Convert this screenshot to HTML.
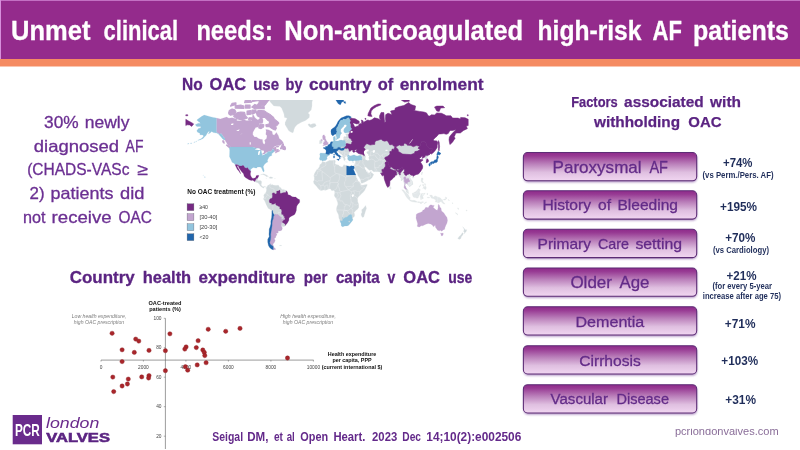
<!DOCTYPE html>
<html><head><meta charset="utf-8"><title>Unmet clinical needs</title>
<style>html,body{margin:0;padding:0;background:#fff}body{width:800px;height:450px;overflow:hidden}svg{display:block}text{font-family:"Liberation Sans",sans-serif}</style></head>
<body><svg width="800" height="450" viewBox="0 0 800 450">
<rect x="0" y="0" width="800" height="59" fill="#942b8c"/>
<rect x="0" y="0" width="1" height="59" fill="#d78fdc"/><rect x="0" y="0" width="800" height="0.7" fill="#d78fdc"/>
<rect x="0" y="59" width="800" height="7.5" fill="#f58b62"/>
<text y="39.9" font-size="27.6" fill="#fff" font-weight="bold" stroke="#fff" stroke-width="0.3"><tspan x="11.1" textLength="79.3" lengthAdjust="spacingAndGlyphs">Unmet</tspan> <tspan x="103.6" textLength="74.6" lengthAdjust="spacingAndGlyphs">clinical</tspan> <tspan x="196.4" textLength="76.4" lengthAdjust="spacingAndGlyphs">needs:</tspan> <tspan x="284.3" textLength="238.9" lengthAdjust="spacingAndGlyphs">Non-anticoagulated</tspan> <tspan x="537.5" textLength="104.0" lengthAdjust="spacingAndGlyphs">high-risk</tspan> <tspan x="652.6" textLength="29.4" lengthAdjust="spacingAndGlyphs">AF</tspan> <tspan x="693.1" textLength="95.9" lengthAdjust="spacingAndGlyphs">patients</tspan></text>
<text y="127.7" font-size="16.5" fill="#6b2f92" stroke="#6b2f92" stroke-width="0.3"><tspan x="44.1" textLength="34.6" lengthAdjust="spacingAndGlyphs">30%</tspan> <tspan x="84.75" textLength="44.7" lengthAdjust="spacingAndGlyphs">newly</tspan></text>
<text y="151.5" font-size="16.5" fill="#6b2f92" stroke="#6b2f92" stroke-width="0.3"><tspan x="33.75" textLength="85.3" lengthAdjust="spacingAndGlyphs">diagnosed</tspan> <tspan x="125.6" textLength="17.8" lengthAdjust="spacingAndGlyphs">AF</tspan></text>
<text y="175.2" font-size="16.5" fill="#6b2f92" stroke="#6b2f92" stroke-width="0.3"><tspan x="27.2" textLength="102.2" lengthAdjust="spacingAndGlyphs">(CHADS-VASc</tspan> <tspan x="136.9" textLength="10.7" lengthAdjust="spacingAndGlyphs">≥</tspan></text>
<text y="199.1" font-size="16.5" fill="#6b2f92" stroke="#6b2f92" stroke-width="0.3"><tspan x="29.6" textLength="15.0" lengthAdjust="spacingAndGlyphs">2)</tspan> <tspan x="50.6" textLength="62.8" lengthAdjust="spacingAndGlyphs">patients</tspan> <tspan x="120" textLength="24.4" lengthAdjust="spacingAndGlyphs">did</tspan></text>
<text y="223.4" font-size="16.5" fill="#6b2f92" stroke="#6b2f92" stroke-width="0.3"><tspan x="22.9" textLength="22.5" lengthAdjust="spacingAndGlyphs">not</tspan> <tspan x="51.6" textLength="60.0" lengthAdjust="spacingAndGlyphs">receive</tspan> <tspan x="118.5" textLength="33.4" lengthAdjust="spacingAndGlyphs">OAC</tspan></text>
<text y="90" font-size="16.8" fill="#5b2482" font-weight="bold" stroke="#5b2482" stroke-width="0.3"><tspan x="182" textLength="20.6" lengthAdjust="spacingAndGlyphs">No</tspan> <tspan x="209.6" textLength="36.6" lengthAdjust="spacingAndGlyphs">OAC</tspan> <tspan x="253.2" textLength="25.9" lengthAdjust="spacingAndGlyphs">use</tspan> <tspan x="285.5" textLength="17.0" lengthAdjust="spacingAndGlyphs">by</tspan> <tspan x="308.9" textLength="62.7" lengthAdjust="spacingAndGlyphs">country</tspan> <tspan x="377.8" textLength="15.5" lengthAdjust="spacingAndGlyphs">of</tspan> <tspan x="399.7" textLength="83.9" lengthAdjust="spacingAndGlyphs">enrolment</tspan></text>
<text y="283.4" font-size="16.8" fill="#5b2482" font-weight="bold" stroke="#5b2482" stroke-width="0.3"><tspan x="69.7" textLength="65.1" lengthAdjust="spacingAndGlyphs">Country</tspan> <tspan x="142.7" textLength="48.5" lengthAdjust="spacingAndGlyphs">health</tspan> <tspan x="198.6" textLength="96.6" lengthAdjust="spacingAndGlyphs">expenditure</tspan> <tspan x="303.8" textLength="23.7" lengthAdjust="spacingAndGlyphs">per</tspan> <tspan x="335.9" textLength="43.8" lengthAdjust="spacingAndGlyphs">capita</tspan> <tspan x="387.6" textLength="7.8" lengthAdjust="spacingAndGlyphs">v</tspan> <tspan x="403.3" textLength="36.7" lengthAdjust="spacingAndGlyphs">OAC</tspan> <tspan x="448.2" textLength="24.1" lengthAdjust="spacingAndGlyphs">use</tspan></text>
<text y="106.6" font-size="15" fill="#5b2482" font-weight="bold" stroke="#5b2482" stroke-width="0.25"><tspan x="571.2" textLength="46.5" lengthAdjust="spacingAndGlyphs">Factors</tspan> <tspan x="624.1" textLength="79.6" lengthAdjust="spacingAndGlyphs">associated</tspan> <tspan x="710.1" textLength="30.9" lengthAdjust="spacingAndGlyphs">with</tspan></text>
<text y="127.3" font-size="15" fill="#5b2482" font-weight="bold" stroke="#5b2482" stroke-width="0.25"><tspan x="594" textLength="86" lengthAdjust="spacingAndGlyphs">withholding</tspan> <tspan x="688.3" textLength="33.2" lengthAdjust="spacingAndGlyphs">OAC</tspan></text>
<clipPath id="mc"><rect x="184" y="100" width="300" height="152"/></clipPath>
<g clip-path="url(#mc)"><path d="M320.0,160.2 319.5,158.5 320.0,156.9 320.0,155.0 319.7,153.9 320.7,153.0 322.5,153.2 324.3,153.3 325.6,153.4 326.1,152.1 326.1,150.5 325.0,149.0 323.3,148.2 323.5,147.5 325.7,147.4 325.6,146.2 327.2,146.4 328.3,144.8 329.0,144.5 329.9,144.0 330.5,142.8 330.9,141.8 332.5,141.7 333.7,141.1 333.7,139.8 333.4,139.7 333.4,137.0 335.2,136.2 335.2,138.0 334.8,139.9 335.6,140.9 338.1,141.1 339.9,140.3 341.5,140.0 342.5,140.4 343.5,139.4 343.5,137.3 344.3,136.2 346.1,136.8 346.1,135.3 345.4,134.1 347.4,133.5 349.0,133.6 350.7,133.1 349.4,132.2 348.8,132.2 346.6,132.8 345.0,133.1 343.9,131.8 343.7,130.1 344.6,128.3 346.2,126.8 346.8,125.6 345.9,124.4 344.3,124.7 343.5,126.4 341.9,127.9 340.7,129.4 340.6,131.5 341.7,133.2 340.3,134.7 339.9,136.4 339.6,138.0 338.4,138.1 338.2,139.0 337.2,139.1 337.0,138.4 336.4,136.6 335.9,135.3 335.8,134.2 335.2,133.9 334.5,134.6 333.3,135.6 332.5,135.7 331.3,134.3 330.9,131.5 331.1,129.8 332.5,128.6 334.1,127.4 335.6,125.9 336.8,124.0 338.0,121.6 339.2,120.0 341.1,117.9 343.5,117.1 346.6,115.7 349.0,115.7 351.3,116.9 350.5,117.9 352.9,118.5 355.2,118.8 359.2,121.3 359.2,123.2 356.8,124.0 353.7,122.9 352.9,123.6 354.1,125.6 354.5,126.7 356.4,127.1 356.8,125.9 358.4,126.2 358.8,124.4 360.3,123.4 361.5,123.9 361.7,121.1 361.1,120.0 363.1,120.8 363.5,122.8 364.7,121.5 367.8,120.0 369.4,120.5 371.7,119.8 374.5,117.8 377.6,118.6 378.8,119.1 380.7,120.3 379.6,118.3 379.6,115.7 381.1,112.4 383.9,112.6 384.3,119.1 384.8,122.4 385.8,121.6 385.4,119.1 385.7,114.8 386.6,113.9 388.2,113.3 390.1,113.9 392.1,114.8 390.5,111.1 394.9,110.1 395.2,108.1 399.2,106.5 403.9,105.5 408.6,102.5 410.9,104.4 415.6,106.1 414.9,110.1 413.3,110.1 415.6,110.7 419.6,111.4 423.9,112.0 426.6,112.9 428.2,115.7 429.8,116.0 431.3,114.8 434.5,114.9 436.8,112.9 441.5,113.3 444.7,114.8 446.2,115.8 450.9,115.8 452.5,117.9 454.1,118.1 458.0,118.1 460.3,119.1 460.7,117.4 465.1,117.8 468.2,119.3 468.2,125.6 466.2,126.1 467.4,128.6 465.8,129.4 463.5,130.4 460.3,133.0 457.2,133.0 455.6,133.2 454.9,135.7 454.1,136.4 455.1,138.4 454.1,139.7 452.5,142.2 451.2,143.4 449.9,144.6 449.4,142.2 449.0,139.7 449.4,137.0 450.9,135.0 453.3,132.2 454.9,130.8 456.0,129.4 452.9,130.4 450.2,130.5 449.4,131.5 448.2,133.6 446.2,134.3 443.9,133.6 440.7,133.9 438.8,134.1 436.8,136.4 435.2,137.7 433.1,140.0 434.9,140.9 436.4,140.7 437.8,142.2 437.6,143.4 437.2,145.2 437.1,147.6 435.6,149.9 433.7,152.2 431.5,154.1 430.5,153.6 429.5,154.6 428.7,155.5 427.0,157.4 427.7,158.7 428.5,160.2 428.5,161.8 427.4,162.5 426.2,162.9 426.2,161.3 426.4,159.5 425.1,159.2 425.2,157.6 424.5,157.2 422.7,158.1 422.1,158.4 422.7,156.6 421.9,156.2 420.3,157.9 419.3,158.4 420.2,159.5 421.7,159.4 423.1,160.0 421.5,161.1 420.6,162.3 421.5,163.8 422.5,165.5 422.7,167.0 422.3,168.7 421.1,170.6 420.0,172.3 418.4,173.9 416.4,174.5 414.1,175.4 413.3,176.4 412.9,175.3 411.7,175.2 410.7,176.1 409.9,177.6 410.5,179.0 412.1,180.8 412.7,183.1 412.7,184.4 410.9,185.4 409.5,186.9 409.2,185.6 407.8,184.9 407.4,183.8 406.1,183.3 405.8,182.6 405.4,183.5 404.9,185.3 405.7,187.1 406.2,188.5 407.1,189.1 408.1,190.6 408.2,192.4 408.7,193.4 408.1,193.3 406.5,192.0 405.8,189.7 405.6,188.9 405.2,188.9 404.1,187.5 404.3,185.8 404.4,184.0 403.7,181.7 403.6,179.9 402.3,179.6 401.8,180.6 401.0,180.4 401.1,178.6 400.3,176.9 399.4,176.0 399.0,174.6 398.0,174.9 396.8,175.1 395.2,175.3 394.9,176.7 393.7,177.4 391.6,179.8 389.9,180.8 389.9,182.8 389.6,185.5 389.0,186.4 388.3,186.8 387.8,187.4 386.8,185.9 385.8,183.5 385.0,181.3 384.3,179.0 384.1,177.5 384.0,175.8 383.9,175.1 382.7,176.0 381.1,174.6 381.9,174.0 380.5,173.4 379.8,172.3 379.3,172.1 377.2,171.8 375.3,171.9 373.3,171.7 371.9,170.3 371.2,170.1 369.7,170.5 368.2,169.6 366.8,168.0 365.8,167.1 365.0,167.3 364.7,167.7 365.2,169.2 366.2,170.4 366.8,172.1 367.2,171.0 367.5,172.3 368.2,172.8 369.5,172.8 370.9,171.1 371.2,170.8 371.4,172.5 372.9,173.4 373.9,174.4 372.9,176.3 372.3,177.6 371.3,178.6 370.1,179.5 367.9,180.4 365.4,181.9 362.3,183.3 361.1,183.3 360.7,181.7 360.5,180.1 359.2,177.6 357.7,175.6 357.2,173.5 356.0,171.6 354.6,169.2 354.4,167.7 353.8,166.0 354.5,164.3 355.2,162.3 355.4,160.6 354.1,160.5 352.5,161.2 351.0,160.4 349.7,161.1 348.5,160.2 347.6,158.9 348.0,157.6 347.6,157.1 348.6,156.6 349.7,156.0 351.7,155.7 353.3,154.9 354.6,154.9 355.6,155.7 357.2,156.0 359.6,155.5 359.6,154.1 358.4,153.4 358.0,153.1 356.4,152.0 356.0,151.3 356.8,149.6 357.6,149.1 357.0,149.2 356.4,149.6 354.5,150.3 354.7,151.3 355.6,151.4 354.8,152.0 353.4,152.3 352.6,151.2 353.4,150.4 352.1,150.2 351.2,149.9 350.3,151.3 349.5,152.7 349.0,153.9 349.0,155.0 349.1,155.5 349.7,155.9 348.6,156.1 347.6,156.8 347.4,156.2 345.8,156.2 345.7,157.1 344.8,156.7 345.0,157.9 345.8,159.2 345.0,159.9 345.2,160.7 344.6,160.8 343.9,160.4 343.6,159.4 343.5,158.4 342.7,157.5 342.2,156.7 342.3,155.2 341.5,154.4 339.6,153.3 338.8,152.2 338.2,151.4 337.7,151.0 336.6,151.3 336.7,152.5 337.7,153.3 338.1,154.6 339.6,155.2 341.5,156.9 340.3,156.6 340.0,157.4 340.5,158.1 339.6,159.2 339.3,157.1 338.4,156.4 336.8,155.4 335.2,154.0 335.0,152.9 333.9,152.3 332.9,153.0 332.1,153.7 330.8,153.4 329.5,153.6 329.4,154.5 329.5,155.0 327.6,156.0 326.8,157.6 327.2,158.4 326.5,159.6 325.3,160.5 323.5,160.5 322.6,161.3 322.0,160.4 321.2,160.0 320.0,160.2ZM352.6,167.3 352.3,166.1 351.3,165.8 349.7,166.4 346.6,165.7 345.2,165.1 343.9,164.5 342.7,166.3 342.3,166.9 340.7,166.4 339.2,165.8 338.9,164.9 336.8,164.4 335.6,164.0 335.0,163.3 335.6,161.8 335.2,160.2 334.7,159.9 332.5,160.2 329.4,160.3 327.0,161.5 325.4,162.2 322.8,161.5 322.3,161.5 321.5,163.3 319.7,164.8 319.3,166.8 318.0,168.7 316.8,169.5 315.2,172.1 314.4,173.5 313.7,175.8 314.2,177.6 314.1,179.9 313.3,181.5 313.8,183.5 315.2,185.0 316.6,186.6 318.0,188.4 319.9,190.2 321.1,190.7 323.9,190.0 325.4,190.4 327.8,189.5 329.0,189.0 330.5,189.0 331.3,190.6 332.5,190.8 333.7,190.5 334.6,191.5 334.5,193.7 334.1,195.3 334.7,196.8 336.3,198.8 336.6,199.9 337.4,202.1 337.8,204.3 336.8,206.6 336.4,208.6 336.3,209.9 337.0,212.0 338.4,214.8 338.8,218.1 339.9,220.6 341.1,223.4 341.4,225.9 342.7,226.7 344.6,225.9 347.0,225.9 348.6,225.2 350.5,222.9 352.5,220.5 352.8,219.0 352.8,218.1 354.7,216.2 354.7,214.3 354.2,212.5 355.9,210.5 357.6,209.3 358.8,207.5 358.8,203.9 357.8,201.7 357.8,199.9 357.6,198.7 358.5,196.8 359.6,196.1 361.1,194.2 363.1,192.4 364.7,190.6 366.2,187.5 367.2,185.3 367.2,184.2 365.4,184.6 363.1,185.1 361.5,185.3 360.9,184.3 360.7,183.3 359.2,181.5 358.0,180.8 357.2,178.6 356.3,177.2 356.2,175.8 355.9,174.9 355.0,173.2 354.3,171.3 353.5,169.7 352.6,167.3ZM352.6,167.3 353.3,168.7 353.8,169.4 354.4,167.7 353.8,166.0 352.3,166.1ZM266.4,186.9 267.4,186.2 267.8,185.1 268.6,184.9 270.5,183.8 271.1,183.6 270.9,184.9 272.1,184.3 273.3,185.0 275.2,185.2 276.8,185.3 278.4,185.1 279.2,186.2 279.5,187.1 280.7,187.5 281.9,189.3 283.9,189.4 286.2,190.2 286.6,190.8 287.8,193.0 287.8,194.6 289.0,195.0 290.1,195.2 292.1,196.8 294.1,197.1 295.6,197.1 296.8,197.9 298.0,198.9 299.4,199.5 299.7,201.0 299.5,202.6 298.0,204.3 296.8,206.1 296.4,208.4 296.3,210.5 295.6,212.5 294.8,214.3 293.3,215.3 291.7,216.0 290.1,216.9 289.0,218.1 288.8,220.5 287.4,222.9 286.1,224.4 285.1,225.7 284.3,226.7 282.7,226.8 281.2,225.9 282.3,227.9 281.9,230.0 279.9,230.9 278.2,230.8 278.1,233.0 276.0,233.2 277.0,234.8 275.9,235.9 275.6,237.6 274.1,238.7 275.2,240.4 274.1,242.8 272.9,244.0 273.3,246.1 273.5,247.0 275.9,249.3 273.2,249.8 271.3,248.9 269.7,247.6 268.6,245.8 267.8,242.2 267.8,239.3 269.3,236.5 269.0,234.3 269.2,231.6 269.3,229.0 270.1,226.9 270.9,223.9 270.9,221.0 271.7,217.6 271.9,214.3 271.9,211.0 270.5,209.7 268.2,208.4 267.2,206.8 266.2,204.8 265.0,201.8 264.2,200.3 263.2,199.0 264.0,197.6 264.2,196.8 263.5,195.9 264.1,194.6 264.6,193.7 265.3,193.3 266.2,191.3 266.4,189.3 266.0,188.2 266.4,186.9ZM254.7,181.7 256.4,182.4 258.2,183.1 258.4,183.5 259.8,184.9 259.9,185.8 261.5,187.1 262.1,187.5 263.5,188.2 264.2,188.0 264.2,187.1 265.0,186.6 265.8,187.3 266.0,188.2 266.4,186.9 264.6,186.1 263.5,186.8 262.3,186.2 261.5,185.3 261.3,184.4 261.7,183.1 261.7,181.3 260.7,180.6 259.5,180.5 258.0,180.6 257.3,180.5 257.8,179.5 257.7,178.1 257.2,178.6 256.0,178.7 255.6,180.4 254.8,180.8 254.7,181.7ZM269.7,101.4 273.7,106.1 279.9,106.5 281.5,108.1 283.9,113.9 284.3,117.4 287.0,118.3 285.0,122.4 285.0,124.8 287.0,127.9 288.6,130.8 290.9,132.2 292.9,133.1 293.7,131.5 294.1,129.4 295.2,127.1 297.2,124.8 301.1,122.4 305.8,120.5 309.4,117.4 309.7,114.8 308.2,112.9 311.3,110.1 312.1,106.1 312.1,101.9 313.7,97.3 317.6,93.7 311.3,92.4 301.9,88.5 291.7,91.2 279.9,92.4 276.0,96.1 270.5,98.5ZM307.8,124.8 309.7,127.1 312.1,128.0 315.2,126.8 316.4,125.6 315.2,123.6 312.9,123.6 310.5,124.4 309.0,123.4ZM260.3,175.1 261.9,173.9 263.9,173.8 266.6,175.1 268.8,176.5 266.2,176.8 265.8,176.1 263.9,175.1 262.3,174.5 261.1,175.1ZM268.6,178.1 270.1,176.8 272.1,176.9 273.3,178.0 271.7,178.4 270.5,178.5ZM265.6,178.3 267.2,178.5 266.6,178.7ZM274.3,178.2 275.5,178.2 275.5,178.6 274.3,178.6ZM365.7,205.2 366.6,208.4 365.8,210.6 364.5,214.8 363.9,217.1 362.3,217.6 361.3,215.7 361.0,213.9 361.9,212.3 361.5,209.7 363.1,208.6 364.7,206.6ZM319.2,143.7 319.5,141.8 319.2,140.7 320.5,140.3 320.7,139.4 321.5,139.3 320.7,140.3 321.3,140.7 322.3,140.8 322.3,142.2 322.0,143.2 320.7,143.8ZM279.2,245.5 281.5,245.0 281.5,246.0 279.5,246.1ZM352.3,162.3 352.9,161.9 354.1,161.6 353.7,162.4 352.9,162.7ZM345.4,161.8 347.6,162.0 347.6,162.3 345.4,162.1ZM328.9,157.6 329.7,157.2 329.5,157.8ZM462.5,226.4 463.7,227.6 464.7,228.7 465.1,229.6 467.0,229.7 466.5,231.3 465.8,232.1 464.5,233.8 464.0,233.4 464.3,232.1 463.3,231.4 464.0,230.0 463.9,229.0 462.7,226.9ZM462.5,232.6 463.6,233.5 462.7,235.3 461.4,236.8 461.0,238.6 459.6,239.4 457.6,238.7 458.8,236.7 460.7,235.1 461.9,233.2Z" fill="#d2dadd" stroke="#f4f6f7" stroke-width="0.25" stroke-linejoin="round"/>
<path d="M411.7,175.2 410.7,176.1 409.9,177.6 410.5,179.0 412.1,180.8 412.7,183.1 412.7,184.4 410.9,185.4 409.5,186.9 409.2,185.6 407.8,184.9 407.4,183.8 406.1,183.3 405.8,182.6 405.4,183.5 404.9,185.3 405.7,187.1 406.2,188.5 407.1,189.1 408.1,190.6 408.2,192.4 408.7,193.4 408.1,193.3 406.5,192.0 405.8,189.7 405.6,188.9 405.2,188.9 404.1,187.5 404.3,185.8 404.4,184.0 403.7,181.7 403.6,179.9 402.3,179.6 401.8,180.6 401.0,180.4 401.1,178.6 400.3,176.9 399.4,176.0 399.0,174.6 399.6,175.0 400.3,174.9 400.2,173.0 401.2,172.3 401.7,171.1 403.1,170.0 403.3,169.0 404.4,169.6 404.4,171.3 403.6,173.0 404.6,173.7 404.8,174.8 405.5,175.3 406.4,175.6 407.2,174.4 407.8,174.4 409.6,173.7 410.7,174.9ZM401.8,189.7 403.5,190.0 405.8,192.4 408.2,194.6 409.0,196.4 410.1,197.5 410.0,199.7 409.0,199.7 407.2,198.1 405.8,195.9 404.4,193.3 403.1,191.5ZM409.5,200.6 410.5,199.9 412.1,200.5 413.9,200.3 415.4,200.8 416.8,201.5 416.7,202.3 414.1,201.9 411.7,201.5 410.5,201.1ZM412.5,193.0 413.3,193.1 414.5,192.2 415.6,191.7 417.2,190.2 418.6,188.4 420.5,190.0 419.4,191.1 419.6,192.8 420.3,193.7 419.2,195.3 418.4,197.1 418.0,198.1 416.8,198.1 415.6,197.5 414.5,197.5 413.4,197.1 412.5,195.0ZM421.0,194.0 421.8,193.5 423.5,193.7 425.1,193.2 424.7,194.2 421.9,194.2 421.5,195.3 422.7,195.4 423.7,195.3 422.5,196.2 423.3,198.1 422.9,199.0 422.3,198.7 421.8,197.1 421.4,199.5 420.7,199.5 420.6,197.6 420.2,197.1ZM429.8,195.3 432.1,195.3 432.9,197.5 435.1,195.9 437.6,196.9 440.3,197.9 441.5,199.5 442.9,200.1 442.3,200.6 443.3,201.9 445.1,204.0 442.9,203.5 441.5,201.8 440.0,201.4 439.2,202.7 437.6,202.6 436.0,201.8 435.2,201.9 435.8,200.6 435.2,199.4 433.3,198.5 431.3,198.1 431.1,197.1 430.0,195.9ZM412.3,177.5 412.9,178.4 413.7,177.8 414.1,177.0 413.3,176.6ZM421.9,171.9 422.7,172.1 421.8,174.9 421.2,173.9ZM389.6,186.0 390.7,187.1 391.2,188.4 390.2,189.3 389.6,188.4ZM421.5,178.1 422.9,178.1 422.9,179.9 422.3,180.8 423.1,182.2 424.3,183.1 424.1,183.4 423.1,182.4 421.9,182.4 421.4,181.5 421.1,180.2ZM422.7,188.4 423.9,187.0 425.4,185.9 426.2,187.5 426.0,189.0 425.4,189.6 424.3,188.9 423.9,188.0ZM425.1,183.5 425.6,184.9 425.1,185.6 424.5,184.6ZM422.7,184.2 423.6,184.7 423.6,186.5 423.1,186.2 422.7,185.3ZM419.0,187.1 420.7,184.6 420.6,185.5 419.4,187.2ZM417.6,201.8 418.8,201.8 420.3,202.1 423.3,201.8 423.3,202.4 420.3,202.6 418.8,202.6 417.6,202.4ZM423.9,203.7 425.1,202.6 426.8,202.0 426.2,202.6 424.7,203.6ZM427.0,193.0 427.8,193.7 427.4,195.0 427.0,194.2ZM427.4,197.2 429.6,197.4 429.4,197.9 427.4,197.7ZM420.3,203.0 421.5,203.0 421.5,203.6 420.3,203.4ZM443.5,199.5 444.7,199.0 446.2,198.3 446.4,199.0 445.1,200.1 443.5,199.9ZM445.4,197.0 446.9,197.9 446.6,198.4 445.4,197.4ZM448.3,199.5 449.4,200.5 449.0,200.8 448.3,199.9ZM452.1,202.8 453.1,203.3 452.7,203.4 452.1,203.2ZM455.6,212.7 458.0,214.3 457.6,214.7 455.6,213.2ZM466.1,210.2 467.1,210.2 467.1,210.8 466.1,210.8ZM457.6,207.9 458.2,207.9 458.6,209.3 458.2,209.3Z" fill="#e3e8ea" stroke="#d9dfe2" stroke-width="0.3" stroke-linejoin="round"/>
<path d="M346.6,174.9 346.6,176.7 345.8,177.2 345.8,180.6 344.6,181.7 344.6,184.9 345.8,186.8 346.8,188.0 348.5,190.0M346.6,176.7 355.9,174.9M346.6,174.9 351.6,174.9M336.0,164.1 334.5,167.1 334.8,172.5 336.4,173.5 338.8,173.9 345.8,177.2M338.8,173.9 339.6,176.3 339.2,179.6 337.7,182.5 338.4,183.3 338.0,185.8 339.2,188.0 339.7,191.1 341.5,191.5M320.2,169.5 320.2,169.9 323.2,172.1 327.9,175.8 329.5,177.2 330.3,177.5 330.3,179.9 329.8,180.8 327.2,181.3 324.6,182.4 322.7,185.3 320.7,185.6 318.1,183.7M336.4,173.5 330.3,177.5M316.8,169.5 320.2,169.5M313.7,175.8 316.8,175.5 316.8,173.9 317.6,173.5 317.6,171.1 320.2,171.1 320.2,169.9M323.2,172.1 321.9,172.1 322.7,180.8 318.0,180.8 317.4,181.5 314.1,179.9M325.4,162.2 326.1,165.1 324.2,166.5 320.2,168.5 320.2,169.5M333.7,160.3 333.4,164.3 334.5,167.1M329.8,180.8 329.8,184.2 329.1,189.0M337.7,182.5 330.3,182.6 329.8,184.2M333.7,190.5 336.3,188.8 337.4,186.1 338.4,183.3M324.8,190.2 324.9,186.2 327.0,184.9 327.7,184.9 328.3,189.1M320.3,190.6 321.1,188.0 320.7,185.6M322.7,185.3 324.9,186.2M334.7,192.6 337.4,192.7 339.7,192.7 341.5,191.5 344.6,190.9 348.5,190.0 351.2,191.5 351.6,192.7 350.2,195.8 350.9,198.5 350.0,198.6M348.5,190.0 353.6,186.2 352.9,183.8 355.5,181.5 357.2,178.6M345.8,186.8 353.6,186.2M351.2,191.5 353.7,190.9 355.2,190.6 357.6,191.5 359.2,191.2 359.9,191.2 359.2,194.6 359.6,196.1M355.5,181.5 358.4,181.7 360.3,183.5 360.9,184.3M360.3,183.5 360.7,185.3 361.5,186.6 364.7,187.5 359.9,191.2M353.7,190.9 354.5,193.3 353.7,195.5 356.5,197.2 357.7,198.7M353.7,195.5 350.9,195.5M350.9,198.5 351.1,201.8 352.8,202.9 353.7,203.0M354.2,204.8 356.4,205.0 358.8,203.9M336.6,199.9 339.9,199.8 340.3,201.2 342.3,200.8 344.3,204.3 345.8,204.3 345.8,206.1 344.3,206.1 344.3,210.2 336.3,209.9M345.8,204.3 348.2,205.2 349.7,206.5 349.4,205.7 350.5,205.2 351.1,201.8M344.3,210.2 346.8,210.5 348.2,210.6 350.8,208.5 352.9,207.0 352.8,202.9M346.8,210.5 350.1,214.5M350.8,208.5 352.7,209.5 352.7,212.5 351.6,214.7M342.7,217.0 342.7,214.3 343.5,214.3 343.5,210.9 346.8,210.5M337.4,192.7 338.4,195.9 336.8,197.7 336.3,198.8M339.7,192.7 341.0,195.5 339.6,198.8 337.2,199.0" fill="none" stroke="#f4f6f7" stroke-width="0.3" stroke-linejoin="round"/>
<path d="M365.4,149.9 363.7,147.6 365.0,145.6 366.6,143.8M368.6,154.9 370.5,155.7 370.9,151.6 372.9,151.1 374.8,152.4 375.6,153.3 377.6,153.2 378.8,154.9 380.3,156.0 382.3,154.9 382.7,154.1 384.7,153.9 385.4,153.6 387.4,154.0 390.0,154.1M370.5,155.7 371.7,155.7 374.1,154.7 375.6,155.8 376.0,157.1 379.2,159.8 377.6,161.0 375.0,161.7 374.8,160.6 373.3,159.7 371.7,159.0 370.0,159.7 369.3,159.9M379.2,159.8 380.3,160.2 381.5,159.6 383.1,160.5 385.8,159.9M380.3,156.0 379.9,157.9 380.3,160.2M382.3,154.9 382.7,156.9 384.9,157.5M375.0,161.7 374.5,163.8 374.7,167.4 375.3,171.9M374.7,167.4 376.0,167.8 379.0,167.3 379.2,165.5 381.5,165.3 381.9,163.8 382.8,163.2 383.1,160.5M375.5,172.0 376.6,170.5 376.3,168.9 374.7,167.4M362.1,157.4 361.7,158.3 362.0,160.0 363.1,161.5 362.7,163.3 364.3,164.8 364.7,166.8 365.0,167.3M362.1,157.4 363.5,158.1 364.7,157.6 365.4,158.8M363.5,155.2 362.3,155.8 361.1,155.9 362.3,155.8 363.5,158.1M360.3,160.0 359.2,162.8 357.6,165.0 357.7,165.3 356.0,165.8 354.5,167.9M357.6,165.0 358.8,165.4 359.9,166.1 362.1,168.0 363.5,168.1 364.4,167.3 364.7,167.3M355.4,160.6 356.8,160.4 358.4,160.4 360.3,160.0M355.2,162.3 355.7,163.1 355.1,164.0 354.9,164.6 357.6,165.0M354.9,164.6 354.8,166.3 354.5,167.7M367.5,172.3 368.3,174.0 370.3,174.2 370.7,176.7 367.8,177.6 365.4,178.0 363.9,179.5 360.9,179.2 360.6,180.0M370.3,174.2 370.9,173.0 371.2,172.1M367.8,177.6 368.6,179.8M349.0,133.6 348.6,135.0 348.7,136.5 349.1,138.1 347.9,138.7 347.2,139.8 345.7,140.9 345.4,141.1 345.7,142.6M346.1,135.7 348.7,136.5M343.5,138.2 347.9,138.7M349.1,138.1 351.3,139.0 351.2,139.9 352.5,141.6 351.7,142.2 351.7,143.3M345.0,148.2 343.5,150.3 341.7,150.6 339.9,150.0 339.7,149.6M343.5,150.3 344.6,152.2 344.8,152.9 349.4,153.1M349.1,151.1 347.9,148.0M344.8,152.9 344.6,154.6 345.0,155.7 347.7,155.3 349.0,155.0M347.7,155.3 347.4,156.2M342.2,155.0 343.1,156.0 343.3,156.1 345.0,155.7M342.7,157.4 343.3,156.1M337.7,151.0 339.9,150.0M341.9,151.7 339.6,151.4 339.0,151.1 337.7,151.0M341.7,150.6 341.9,151.7 342.3,153.3 341.5,154.4M342.3,153.3 343.1,153.9 343.9,154.6 344.6,154.6M341.9,151.7 344.6,152.2M405.5,176.4 403.9,177.0 403.6,178.4 404.3,179.9 404.0,181.1 404.7,182.6 404.8,184.4 404.3,185.8M405.5,175.3 405.5,176.4M406.4,175.6 407.0,176.7 408.6,176.4 409.4,177.9 411.3,180.2 411.4,181.7 409.8,181.8M411.4,181.7 411.3,183.7 410.1,184.9 409.0,185.4M407.4,183.8 407.8,181.9M399.4,176.0 399.6,175.0M390.5,167.1 389.8,168.4M385.8,159.9 385.0,162.6M413.3,193.1 413.7,193.8 414.9,193.4 416.4,193.4 417.2,192.1 417.6,190.9 419.2,190.9M437.6,196.9 437.6,202.6M424.5,157.2 425.8,155.3 427.4,155.5 429.4,154.5M426.4,159.5 427.7,158.7" fill="none" stroke="#f4f6f7" stroke-width="0.3" stroke-linejoin="round"/>
<path d="M266.0,188.2 266.4,186.9M270.5,183.8 269.7,186.5 270.5,188.0 272.1,188.4 274.1,189.1 274.2,191.5 274.4,192.8M265.3,193.3 266.6,194.2 267.9,194.7 269.7,196.6 272.1,196.8 272.1,198.3M264.0,197.6 265.0,199.0 265.6,197.6 267.9,194.7M279.4,190.0 278.9,189.3 279.9,187.1M282.1,189.3 281.5,191.1 282.7,192.8M284.6,189.5 284.2,192.6M272.5,204.3 272.9,205.7 272.9,208.4 272.5,210.3 271.9,211.0M281.5,212.7 278.4,212.5 277.7,214.3M272.5,210.3 273.0,212.9 274.3,215.1M281.2,225.9 281.3,224.4 281.8,222.1" fill="none" stroke="#f4f6f7" stroke-width="0.3" stroke-linejoin="round"/>
<path d="M216.4,118.1 220.3,119.1 222.7,118.3 226.6,117.1 228.9,118.3 232.1,117.8 236.8,119.1 236.8,120.8 240.7,120.8 242.3,120.0 244.6,120.0 247.0,120.8 250.1,120.0 251.7,120.8 252.1,118.3 252.9,114.0 254.8,117.4 256.4,119.1 258.0,120.0 260.3,117.8 262.7,118.3 263.1,120.8 262.7,123.2 259.5,123.6 258.8,125.6 258.0,127.1 255.6,127.4 254.1,130.1 252.9,132.2 252.7,134.6 254.4,137.0 256.4,137.0 258.4,138.4 260.3,139.3 262.4,139.5 262.7,142.2 263.5,144.0 264.6,144.3 265.2,142.8 264.6,140.3 266.6,138.4 267.0,135.7 265.8,134.3 266.2,131.5 265.8,129.5 268.2,129.8 270.5,130.8 272.1,131.5 272.5,134.3 274.1,135.3 275.6,133.6 276.4,132.4 278.4,135.7 279.2,138.4 281.5,140.3 283.1,142.2 283.3,143.4 281.5,144.3 279.9,145.6 276.8,145.6 274.4,146.4 272.9,147.9 271.3,149.5 273.7,147.4 276.0,146.8 276.6,147.9 276.0,148.8 276.4,150.2 277.6,150.7 279.2,150.8 279.9,149.9 280.1,150.5 279.2,151.4 277.2,152.2 275.6,153.3 275.1,152.4 276.4,151.3 275.2,151.4 274.4,151.6 273.8,149.4 272.7,148.9 271.7,150.8 270.9,151.6 268.4,151.6 267.0,152.5 265.0,153.5 265.0,154.1 261.9,154.9 262.3,153.9 262.3,151.3 260.7,149.9 258.0,148.0 256.8,148.2 255.6,148.1 252.5,147.0 230.5,147.0 229.3,145.8 227.4,144.6 226.6,142.8 225.4,140.9 225.0,139.7 225.0,138.4 223.5,137.0 222.3,135.0 221.1,133.6 219.5,134.3 218.0,133.0 216.4,132.5 216.4,118.1Z" fill="#c2a5cf" stroke="#c2a5cf" stroke-width="0.2" stroke-linejoin="round"/>
<path d="M230.1,147.7 228.9,147.3 226.4,145.1 227.8,145.2 229.7,146.7ZM280.5,148.6 281.5,146.4 282.4,144.3 283.5,144.0 283.3,145.8 285.0,146.7 285.6,148.8 285.0,149.7 283.5,149.4 282.3,148.7ZM276.4,128.2 275.2,130.1 273.3,129.4 270.9,127.9 269.0,126.4 266.2,126.7 265.8,124.8 269.0,124.0 269.7,121.6 267.4,120.0 265.0,117.4 260.3,117.4 257.2,115.7 256.4,112.9 258.0,110.5 261.1,110.5 264.2,110.7 266.6,112.4 270.5,114.8 273.3,117.1 274.4,119.1 277.6,121.6 278.8,123.2 276.8,125.6 275.6,126.4ZM236.8,118.6 240.7,119.6 244.6,119.1 247.4,117.9 245.4,115.7 244.6,112.4 240.7,112.0 237.6,112.6 234.4,114.8 233.7,116.5 235.2,117.6ZM228.9,114.0 230.5,115.3 232.9,114.8 236.0,112.0 234.8,109.7 232.1,109.1 229.3,110.5 228.6,112.9ZM264.2,105.7 257.2,105.3 259.5,101.9 258.0,99.6 260.3,96.1 255.6,93.7 260.3,91.2 272.1,89.9 278.4,91.2 274.4,94.9 271.3,98.5 268.2,100.8 265.8,104.0ZM252.5,101.4 258.0,100.8 258.8,98.5 255.6,95.4 251.7,97.3ZM264.2,108.7 254.8,108.7 251.7,107.1 254.8,104.4 258.0,105.5 264.2,106.7ZM252.1,113.9 256.0,112.6 256.0,110.1 252.1,110.1ZM247.0,114.8 250.9,114.2 250.9,110.5 247.0,111.1ZM235.2,108.1 243.9,108.5 243.9,106.1 240.7,105.1 235.2,105.7ZM245.4,108.1 250.1,108.1 250.1,105.1 245.4,105.1ZM230.5,106.1 236.0,104.4 236.0,102.7 232.1,103.2ZM244.6,102.7 251.7,102.3 250.1,99.6 245.4,99.6ZM248.6,119.5 251.7,119.8 251.7,117.8 249.0,117.8ZM258.8,127.9 261.1,128.6 263.5,127.1 263.9,124.8 260.7,124.0 258.8,125.6ZM276.8,146.0 278.5,146.6 278.0,146.9 276.4,146.2ZM276.8,149.5 278.4,149.9 278.0,150.5 276.8,150.0ZM222.7,140.9 223.7,140.9 224.2,143.2 223.1,142.4Z" fill="#c2a5cf" stroke="#c2a5cf" stroke-width="1.1" stroke-linejoin="round"/>
<path d="M230.5,147.0 229.2,147.7 229.7,150.3 229.6,153.9 229.5,156.8 230.9,159.4 232.1,162.3 234.0,163.3 235.1,164.8 237.0,164.6 239.9,166.0 242.1,166.0 242.1,165.5 243.5,165.5 245.0,167.7 246.2,168.2 247.4,167.4 249.0,169.7 250.8,171.2 250.7,169.4 252.5,167.9 253.4,167.5 255.6,168.0 257.0,168.1 257.2,167.0 259.5,167.0 261.1,167.3 262.1,169.2 262.8,171.1 263.5,172.0 264.1,171.6 264.2,170.2 263.2,166.8 264.2,164.8 266.2,162.8 267.8,162.0 267.4,160.2 268.2,158.7 269.0,157.1 270.5,156.0 272.1,155.3 271.5,153.9 272.9,152.7 274.4,151.6 273.8,149.4 272.7,148.9 271.7,150.8 270.9,151.6 268.4,151.6 267.0,152.5 265.0,153.5 265.0,154.1 261.9,154.9 262.3,153.9 262.3,151.3 260.7,149.9 258.0,148.0 256.8,148.2 255.6,148.1 252.5,147.0 230.5,147.0ZM216.4,118.1 213.3,117.4 209.3,116.5 204.2,115.1 201.5,116.5 199.1,118.3 196.8,120.0 198.4,121.6 199.9,122.4 200.3,123.6 198.4,123.2 195.2,124.7 196.8,126.4 200.7,126.4 200.7,127.9 198.4,128.6 196.8,130.8 197.6,132.2 199.9,133.2 199.9,134.7 203.1,135.0 203.5,136.4 201.5,138.4 199.1,139.7 197.6,140.3 199.9,139.9 203.1,138.4 204.6,136.8 206.2,135.3 207.0,133.6 208.6,131.5 209.7,131.5 208.2,133.9 210.1,133.0 211.7,131.5 213.3,132.5 216.4,133.0 218.0,133.6 219.5,135.3 221.1,137.0 222.7,139.0 224.2,139.9 225.0,139.7 225.0,138.4 223.5,137.0 222.3,135.0 221.1,133.6 219.5,134.3 218.0,133.0 216.4,132.5 216.4,118.1ZM195.6,141.8 196.6,141.1 196.6,141.6ZM193.7,142.6 194.8,141.8 194.8,142.3ZM190.1,143.4 191.7,142.9 191.7,143.4ZM187.4,143.9 188.9,143.5 188.9,144.0ZM204.6,177.6 205.4,177.2 204.8,176.5ZM202.9,175.5 203.3,175.2 203.3,175.6Z" fill="#92c5de" stroke="#92c5de" stroke-width="0.2" stroke-linejoin="round"/>
<path d="M235.1,164.8 236.0,166.8 237.2,169.2 238.8,171.1 240.7,173.9 240.3,172.5 239.1,169.7 237.6,167.3 237.0,165.5 238.4,166.3 238.8,167.7 240.3,169.7 241.5,171.6 243.5,173.7 244.2,176.3 245.4,177.6 247.0,178.6 249.0,179.7 251.3,180.6 252.9,180.2 254.7,181.7 254.8,180.8 255.6,180.4 256.0,178.7 257.2,178.6 257.7,178.1 258.4,176.7 258.9,175.4 258.0,175.2 256.1,175.8 255.9,177.2 254.8,178.0 252.9,178.4 251.7,177.6 250.7,175.8 250.3,173.9 250.8,171.2 249.0,169.7 247.4,167.4 246.2,168.2 245.0,167.7 243.5,165.5 242.1,165.5 242.1,166.0 239.9,166.0 237.0,164.6 235.1,164.8Z" fill="#762a83" stroke="#762a83" stroke-width="0.2" stroke-linejoin="round"/>
<path d="M286.6,190.8 287.8,193.0 287.8,194.6 289.0,195.0 290.1,195.2 292.1,196.8 294.1,197.1 295.6,197.1 296.8,197.9 298.0,198.9 299.4,199.5 299.7,201.0 299.5,202.6 298.0,204.3 296.8,206.1 296.4,208.4 296.3,210.5 295.6,212.5 294.8,214.3 293.3,215.3 291.7,216.0 290.1,216.9 289.0,218.1 288.8,220.5 287.4,222.9 286.1,224.4 285.1,225.7 285.3,224.6 284.3,223.4 283.1,222.7 281.8,222.1 283.2,220.3 284.8,219.2 284.9,218.6 284.2,217.7 284.4,216.3 283.5,216.2 283.2,214.6 281.7,214.4 281.5,212.7 281.5,212.3 281.9,210.8 281.3,210.2 281.2,209.1 279.8,209.0 279.8,206.8 278.8,206.6 277.6,205.8 275.8,205.0 275.8,203.3 273.3,204.3 272.5,204.3 271.6,204.3 271.7,203.0 269.8,202.9 269.1,201.0 269.9,199.0 271.5,198.3 272.1,198.3 272.5,195.5 272.1,194.6 272.6,194.1 272.2,193.1 274.4,192.8 274.5,193.5 275.6,193.9 277.3,192.7 276.4,192.4 276.8,191.1 278.4,191.0 279.4,190.0 280.0,190.6 280.1,192.8 280.7,193.5 281.5,193.3 282.7,192.8 284.2,192.6 285.7,192.4 286.6,190.8Z" fill="#762a83" stroke="#762a83" stroke-width="0.2" stroke-linejoin="round"/>
<path d="M281.2,225.9 282.3,227.9 281.9,230.0 279.9,230.9 278.2,230.8 278.1,233.0 276.0,233.2 277.0,234.8 275.9,235.9 275.6,237.6 274.1,238.7 275.2,240.4 274.1,242.8 272.9,244.0 273.3,246.1 273.5,247.0 275.9,249.3 273.2,249.8 273.2,246.4 270.5,244.6 269.7,242.8 270.5,239.8 270.8,237.0 270.7,234.3 271.2,231.1 271.7,227.9 272.1,225.4 272.1,222.9 272.5,220.5 273.3,218.6 273.4,216.7 274.3,215.1 275.1,214.1 276.4,214.6 277.7,214.3 279.2,215.7 280.9,217.0 281.8,217.4 281.1,219.2 283.1,219.3 284.2,217.7 284.9,218.6 284.8,219.2 283.2,220.3 281.8,222.1 281.3,224.4 281.2,225.9Z" fill="#c2a5cf" stroke="#c2a5cf" stroke-width="0.2" stroke-linejoin="round"/>
<path d="M273.2,249.8 271.3,248.9 269.7,247.6 268.6,245.8 267.8,242.2 267.8,239.3 269.3,236.5 269.0,234.3 269.2,231.6 269.3,229.0 270.1,226.9 270.9,223.9 270.9,221.0 271.7,217.6 271.9,214.3 271.9,211.0 272.5,210.3 273.0,212.9 274.3,215.1 273.4,216.7 273.3,218.6 272.5,220.5 272.1,222.9 272.1,225.4 271.7,227.9 271.2,231.1 270.7,234.3 270.8,237.0 270.5,239.8 269.7,242.8 270.5,244.6 273.2,246.4 273.2,249.8Z" fill="#2166ac" stroke="#2166ac" stroke-width="0.25" stroke-linejoin="round"/>
<path d="M346.6,165.7 346.6,174.9 355.9,174.9 355.0,173.2 354.3,171.3 353.5,169.7 352.6,167.3 353.3,168.7 353.8,169.4 354.4,167.7 353.8,166.0 352.3,166.1 351.3,165.8 349.7,166.4Z" fill="#2166ac" stroke="#2166ac" stroke-width="0.2" stroke-linejoin="round"/>
<path d="M339.9,220.6 341.1,223.4 341.4,225.9 342.7,226.7 344.6,225.9 347.0,225.9 348.6,225.2 350.5,222.9 352.5,220.5 352.8,219.0 352.1,218.9 352.0,217.6 351.6,214.7 350.1,214.5 348.2,215.8 347.2,216.9 345.0,217.4 343.3,218.9 342.7,217.0 342.7,220.4 341.1,220.9Z" fill="#92c5de" stroke="#92c5de" stroke-width="0.2" stroke-linejoin="round"/>
<path d="M348.3,221.6 349.4,220.7 350.1,221.6 349.1,222.5Z" fill="#d2dadd" stroke="#d2dadd" stroke-width="0" stroke-linejoin="round"/>
<path d="M350.5,117.9 352.9,118.5 355.2,118.8 359.2,121.3 359.2,123.2 356.8,124.0 353.7,122.9 352.9,123.6 354.1,125.6 354.5,126.7 356.4,127.1 356.8,125.9 358.4,126.2 358.8,124.4 360.3,123.4 361.5,123.9 361.7,121.1 361.1,120.0 363.1,120.8 363.5,122.8 364.7,121.5 367.8,120.0 369.4,120.5 371.7,119.8 374.5,117.8 377.6,118.6 378.8,119.1 380.7,120.3 379.6,118.3 379.6,115.7 381.1,112.4 383.9,112.6 384.3,119.1 384.8,122.4 385.8,121.6 385.4,119.1 385.7,114.8 386.6,113.9 388.2,113.3 390.1,113.9 392.1,114.8 390.5,111.1 394.9,110.1 395.2,108.1 399.2,106.5 403.9,105.5 408.6,102.5 410.9,104.4 415.6,106.1 414.9,110.1 413.3,110.1 415.6,110.7 419.6,111.4 423.9,112.0 426.6,112.9 428.2,115.7 429.8,116.0 431.3,114.8 434.5,114.9 436.8,112.9 441.5,113.3 444.7,114.8 446.2,115.8 450.9,115.8 452.5,117.9 454.1,118.1 458.0,118.1 460.3,119.1 460.7,117.4 465.1,117.8 468.2,119.3 468.2,125.6 466.2,126.1 467.4,128.6 465.8,129.4 463.5,130.4 460.3,133.0 457.2,133.0 455.6,133.2 454.9,135.7 454.1,136.4 455.1,138.4 454.1,139.7 452.5,142.2 451.2,143.4 449.9,144.6 449.4,142.2 449.0,139.7 449.4,137.0 450.9,135.0 453.3,132.2 454.9,130.8 456.0,129.4 452.9,130.4 450.2,130.5 449.4,131.5 448.2,133.6 446.2,134.3 443.9,133.6 440.7,133.9 438.8,134.1 436.8,136.4 435.2,137.7 433.1,140.0 434.9,140.9 436.4,140.7 437.8,142.2 437.6,143.4 437.2,145.2 437.1,147.6 435.6,149.9 433.7,152.2 431.5,154.1 430.5,153.6 429.5,154.6 429.4,154.5 429.8,153.9 429.9,151.9 431.3,151.6 432.7,147.9 429.6,148.6 427.0,146.1 425.8,142.8 423.9,141.6 421.8,141.8 421.1,142.7 420.3,145.8 419.4,146.4 418.5,146.1 416.4,145.6 413.3,146.8 410.9,145.5 407.2,145.2 407.0,144.3 404.6,143.3 403.7,144.6 404.1,145.2 401.1,145.8 399.4,144.9 397.4,146.1 395.9,146.8 395.5,146.8 393.8,146.3 392.1,144.6 389.8,144.9 388.0,141.8 387.0,140.7 384.7,141.2 382.8,140.7 381.1,139.3 378.4,140.2 375.6,140.9 374.8,142.8 374.8,144.4 372.9,144.6 370.1,145.1 367.8,143.9 366.6,143.8 365.0,145.6 363.7,147.6 364.7,148.4 365.4,149.9 364.3,151.1 363.9,152.2 364.3,153.9 365.0,155.2 363.5,155.2 362.3,154.3 361.1,154.1 358.4,153.4 358.0,153.1 356.4,152.0 356.0,151.3 356.8,149.6 357.6,149.1 357.0,149.2 356.4,149.6 354.5,150.3 354.7,151.3 355.6,151.4 354.8,152.0 353.4,152.3 352.6,151.2 353.4,150.4 352.1,150.2 351.2,149.9 350.3,151.3 349.1,151.1 349.1,149.9 347.9,148.0 346.5,148.6 345.0,148.2 344.4,147.7 344.7,146.9 345.9,145.2 345.5,144.0 347.0,143.5 349.0,144.0 350.9,144.3 351.7,143.3 351.7,142.2 352.5,141.6 351.2,139.9 351.3,139.0 349.1,138.1 348.7,136.5 348.6,135.0 349.0,133.6 350.7,133.1 349.4,132.2 348.8,132.2 350.1,130.8 351.7,128.9 350.5,127.1 350.5,124.5 349.7,122.4 350.5,120.8 349.4,119.1 350.5,117.9ZM367.8,115.7 369.4,116.2 372.1,116.4 370.9,113.9 371.3,111.1 373.3,108.7 376.4,106.7 380.7,105.1 380.7,104.0 378.0,104.0 374.1,105.7 370.9,108.1 369.4,111.1 368.2,113.5ZM401.5,100.3 404.7,102.1 409.4,101.2 409.0,99.0 405.4,97.6 401.5,98.0ZM434.5,107.1 436.8,111.1 439.2,111.4 440.7,108.1 444.7,107.7 443.1,106.1 436.8,106.1ZM438.4,140.5 439.2,142.2 439.4,144.6 439.6,146.7 439.2,149.4 439.6,150.3 438.4,150.5 438.4,148.2 438.4,145.2 438.1,142.8ZM364.9,119.1 366.0,119.6 366.0,118.5 365.0,118.3ZM467.3,115.8 468.2,115.8 468.2,114.8 467.3,114.8ZM185.8,115.8 187.8,115.7 187.8,114.8 185.8,114.8ZM185.8,119.3 188.2,120.8 191.3,122.4 193.7,123.9 191.7,126.4 189.7,125.0 187.0,124.8 185.8,125.6Z" fill="#762a83" stroke="#762a83" stroke-width="0.5" stroke-linejoin="round"/>
<path d="M419.4,146.4 420.3,145.8 421.1,142.7 421.8,141.8 423.9,141.6 425.8,142.8 427.0,146.1 429.6,148.6 432.7,147.9 431.3,151.6 429.9,151.9 429.8,153.9 429.4,154.5 429.5,154.6 427.4,155.5 425.8,155.3 424.5,157.2 422.7,158.1 422.1,158.4 422.7,156.6 421.9,156.2 420.3,157.9 419.3,158.4 420.2,159.5 421.7,159.4 423.1,160.0 421.5,161.1 420.6,162.3 421.5,163.8 422.5,165.5 422.7,167.0 422.3,168.7 421.1,170.6 420.0,172.3 418.4,173.9 416.4,174.5 414.1,175.4 413.3,176.4 412.9,175.3 411.7,175.2 410.7,174.9 409.6,173.7 407.8,174.4 407.2,174.4 406.4,175.6 405.5,175.3 404.8,174.8 404.6,173.7 403.6,173.0 404.4,171.3 404.4,169.6 403.3,169.0 402.3,167.8 400.7,168.0 399.2,169.4 398.9,169.4 397.4,169.0 396.7,169.9 396.1,169.3 394.5,169.2 392.9,168.2 391.3,167.0 390.5,167.1 389.4,166.3 388.7,164.8 389.0,163.0 388.0,161.8 386.5,161.3 385.8,159.9 384.8,158.7 384.9,157.5 386.6,156.7 388.2,156.0 390.0,154.1 389.8,151.6 391.7,151.3 392.1,149.1 394.1,149.4 394.3,147.7 395.5,146.8 395.9,146.8 396.0,147.6 398.1,149.4 398.4,151.4 402.7,154.1 406.2,154.3 410.9,154.6 414.5,153.3 414.9,151.6 417.6,151.1 420.3,149.4 418.0,148.2Z" fill="#762a83" stroke="#762a83" stroke-width="0.6" stroke-linejoin="round"/>
<path d="M396.8,175.1 395.2,175.3 394.9,176.7 393.7,177.4 391.6,179.8 389.9,180.8 389.9,182.8 389.6,185.5 389.0,186.4 388.3,186.8 387.8,187.4 386.8,185.9 385.8,183.5 385.0,181.3 384.3,179.0 384.1,177.5 384.0,175.8 383.9,175.1 382.7,176.0 381.1,174.6 381.9,174.0 380.5,173.4 382.7,172.5 381.9,171.1 381.9,169.4 383.5,169.2 384.7,167.3 385.4,166.3 385.4,164.8 385.0,163.3 385.0,162.6 386.6,161.5 388.0,161.8 389.0,163.0 388.7,164.8 389.4,166.3 390.5,167.1 389.8,168.4 392.1,169.7 393.7,170.3 396.1,170.7 396.1,169.3 396.7,169.9 396.8,170.3 399.2,170.3 399.2,169.4 400.7,168.0 402.3,167.8 403.3,169.0 403.1,170.0 401.7,171.1 401.2,172.3 400.2,173.0 400.3,174.9 399.6,175.0 399.4,173.5 398.5,173.3 399.1,172.0 397.4,171.8 397.4,171.1 396.3,170.6 396.1,171.3 396.7,172.6 396.6,174.1Z" fill="#762a83" stroke="#762a83" stroke-width="0.5" stroke-linejoin="round"/>
<path d="M427.7,158.7 428.5,160.2 428.5,161.8 427.4,162.5 426.2,162.9 426.2,161.3 426.4,159.5 427.7,158.7Z" fill="#762a83" stroke="#762a83" stroke-width="0.2" stroke-linejoin="round"/>
<path d="M429.7,163.3 430.5,163.4 431.3,163.0 432.9,162.7 433.4,163.8 434.5,162.7 435.9,162.6 436.8,162.3 437.4,161.6 437.6,159.2 438.4,157.6 438.0,155.7 437.1,155.8 436.8,157.1 436.7,158.7 435.6,160.0 434.6,159.9 434.3,160.4 433.7,161.6 431.5,161.8 429.8,162.9ZM436.8,154.4 437.1,153.5 438.1,151.2 439.6,152.5 441.0,153.5 439.4,154.9 438.0,154.4 437.1,155.5ZM428.7,164.1 429.8,163.4 430.5,164.3 430.0,165.9 429.1,166.1 429.1,164.8ZM430.9,163.4 432.4,163.0 432.3,163.8 431.3,164.5 430.9,163.9Z" fill="#2166ac" stroke="#2166ac" stroke-width="0.4" stroke-linejoin="round"/>
<path d="M405.5,176.4 406.4,179.0 407.1,178.4 408.6,178.3 409.2,179.9 409.8,180.8 409.8,181.8 407.8,181.9 407.4,183.8 406.1,183.3 405.8,182.6 405.4,183.5 404.9,185.3 405.7,187.1 406.2,188.5 407.1,189.1 406.2,189.6 405.6,188.9 405.2,188.9 404.1,187.5 404.3,185.8 404.8,184.4 404.7,182.6 404.0,181.1 404.3,179.9 403.6,178.4 403.9,177.0Z" fill="#c2a5cf" stroke="#c2a5cf" stroke-width="0.2" stroke-linejoin="round"/>
<path d="M416.6,214.1 418.6,213.0 420.3,212.5 422.3,211.6 422.9,209.9 423.9,210.0 424.7,209.0 425.8,207.2 427.2,207.5 428.2,207.8 428.8,206.6 429.6,205.6 430.9,204.8 432.9,205.4 434.3,205.4 433.7,206.6 433.3,207.7 434.5,208.6 436.2,210.0 437.4,210.2 438.1,207.9 438.1,206.1 438.5,204.2 439.6,205.7 439.8,207.3 441.0,207.9 441.5,211.1 442.7,212.0 443.9,212.9 445.3,215.3 447.0,217.6 447.5,220.5 447.0,222.9 445.8,225.4 444.9,227.7 444.7,229.3 443.1,229.9 441.8,231.2 440.3,230.2 439.6,230.8 437.6,230.2 436.6,228.8 435.6,227.4 435.2,225.4 435.1,224.5 434.5,225.9 433.4,226.8 432.3,224.9 430.5,223.9 428.2,223.5 425.8,224.2 424.3,224.9 422.7,225.8 421.1,225.8 419.6,226.9 418.0,226.8 417.2,226.2 417.7,223.9 417.2,221.9 416.4,219.5 416.0,218.1 416.2,216.2 416.2,214.9ZM440.5,233.0 441.9,233.3 443.2,233.1 443.2,234.5 442.5,235.7 441.5,236.0 441.0,234.6Z" fill="#c2a5cf" stroke="#c2a5cf" stroke-width="0.2" stroke-linejoin="round"/>
<path d="M335.8,134.2 335.2,133.9 334.5,134.6 333.3,135.6 332.5,135.7 331.3,134.3 330.9,131.5 331.1,129.8 332.5,128.6 334.1,127.4 335.6,125.9 336.8,124.0 338.0,121.6 339.2,120.0 341.1,117.9 343.5,117.1 346.6,115.7 349.0,115.7 351.3,116.9 350.5,117.9 349.4,119.1 348.2,117.4 347.0,118.6 345.4,119.6 343.2,119.0 342.7,120.1 341.1,120.1 339.9,121.6 339.0,123.7 338.4,125.1 337.7,126.7 336.6,127.9 336.6,130.8 337.0,131.3 336.6,133.0 336.2,134.3 335.8,134.2ZM335.6,99.6 338.0,103.6 340.3,104.9 341.9,101.9 343.9,101.4 343.5,99.6 341.1,97.8 338.0,97.8ZM341.5,97.3 348.2,97.3 345.8,99.2 341.9,98.5ZM343.9,103.0 345.8,103.4 345.4,101.4 343.9,101.7Z" fill="#2166ac" stroke="#2166ac" stroke-width="0.2" stroke-linejoin="round"/>
<path d="M335.8,134.2 335.9,135.3 336.4,136.6 337.0,138.4 337.2,139.1 338.2,139.0 338.4,138.1 339.6,138.0 339.9,136.4 340.3,134.7 341.7,133.2 340.6,131.5 340.7,129.4 341.9,127.9 343.5,126.4 344.3,124.7 345.9,124.4 345.5,122.0 344.3,120.1 343.2,119.0 342.7,120.1 341.1,120.1 339.9,121.6 339.0,123.7 338.4,125.1 337.7,126.7 336.6,127.9 336.6,130.8 337.0,131.3 336.6,133.0 336.2,134.3 335.8,134.2ZM345.9,124.4 346.8,125.6 346.2,126.8 344.6,128.3 343.7,130.1 343.9,131.8 345.0,133.1 346.6,132.8 348.8,132.2 350.1,130.8 351.7,128.9 350.5,127.1 350.5,124.5 349.7,122.4 350.5,120.8 349.4,119.1 350.5,117.9 349.4,119.1 348.2,117.4 347.0,118.6 345.4,119.6 343.2,119.0 344.3,120.1 345.5,122.0 345.9,124.4ZM332.5,141.7 333.7,141.1 333.7,139.8 334.8,139.9 335.6,140.9 338.1,141.1 338.5,142.8 338.7,144.6 336.6,145.5 337.8,147.4 337.2,148.8 334.8,148.9 333.0,148.7 333.4,147.0 331.9,146.4 331.8,144.9 331.7,143.7 332.5,143.1ZM338.1,141.1 339.9,140.3 341.5,140.0 342.5,140.4 345.0,140.5 345.7,142.6 345.5,144.0 345.9,145.2 344.8,146.9 341.9,146.6 340.3,145.5 338.7,144.6 338.5,142.8ZM336.6,145.5 338.7,144.6 340.3,145.5 341.9,146.6 340.3,147.4 338.8,147.2 337.8,147.4ZM325.6,153.4 327.0,154.2 328.3,154.4 329.4,154.5 329.5,155.0 327.6,156.0 326.8,157.6 327.2,158.4 326.5,159.6 325.3,160.5 323.5,160.5 322.6,161.3 322.0,160.4 321.2,160.0 321.5,159.0 321.4,157.5 321.6,156.0 322.1,155.4 320.6,154.9 320.0,155.0 319.7,153.9 320.7,153.0 322.5,153.2 324.3,153.3ZM320.0,155.0 320.6,154.9 322.1,155.4 321.6,156.0 321.4,157.5 321.5,159.0 321.2,160.0 320.0,160.2 319.5,158.5 320.0,156.9ZM355.4,160.6 354.1,160.5 352.5,161.2 351.0,160.4 349.7,161.1 348.5,160.2 347.6,158.9 348.0,157.6 347.6,157.1 348.6,156.6 349.7,156.0 351.7,155.7 353.3,154.9 354.6,154.9 355.6,155.7 357.2,156.0 359.6,155.5 360.3,155.5 361.1,155.9 362.1,157.4 361.7,158.3 362.0,160.0 360.3,160.0 358.4,160.4 356.8,160.4 355.8,161.1 355.4,160.6ZM349.0,155.0 349.1,155.5 349.7,155.9 348.6,156.1 347.6,156.8 347.4,156.2 347.7,155.3ZM333.4,139.7 333.4,137.0 335.2,136.2 335.2,138.0 334.8,139.9 333.7,139.8ZM335.5,138.5 336.8,138.4 336.6,139.7 335.6,139.9Z" fill="#92c5de" stroke="#92c5de" stroke-width="0.2" stroke-linejoin="round"/>
<path d="M325.6,153.4 326.1,152.1 326.1,150.5 325.0,149.0 323.3,148.2 323.5,147.5 325.7,147.4 325.6,146.2 327.2,146.4 328.3,144.8 329.0,144.5 330.3,145.8 331.5,146.4 333.4,147.0 333.0,148.7 331.8,150.2 332.5,150.6 332.3,152.4 332.9,153.0 332.1,153.7 330.8,153.4 329.5,153.6 329.4,154.5 328.3,154.4 327.0,154.2ZM329.0,144.5 329.9,144.0 330.5,142.8 330.9,141.8 332.5,141.7 332.5,143.1 331.7,143.7 331.8,144.9 331.9,146.4 331.5,146.4 330.3,145.8ZM332.9,153.0 332.3,152.4 332.5,150.6 333.7,150.2 335.2,149.6 336.6,149.4 337.7,149.9 337.7,151.0 336.6,151.3 336.7,152.5 337.7,153.3 338.1,154.6 339.6,155.2 341.5,156.9 340.3,156.6 340.0,157.4 340.5,158.1 339.6,159.2 339.3,157.1 338.4,156.4 336.8,155.4 335.2,154.0 335.0,152.9 333.9,152.3 332.9,153.0ZM336.8,159.2 339.2,159.0 338.8,160.5 336.8,159.6ZM333.4,156.0 334.6,156.0 334.5,157.9 333.6,158.1ZM333.7,154.0 334.5,154.0 334.3,155.5 333.8,155.3ZM331.8,150.2 333.0,148.7 334.5,148.9 334.5,149.4 335.2,149.6 333.7,150.2 332.5,150.6ZM334.5,148.9 334.8,148.9 337.2,148.8 337.8,147.4 338.8,147.2 340.3,147.4 340.3,148.2 339.7,149.6 337.7,149.9 336.6,149.4 335.2,149.6 334.5,149.4ZM339.7,149.6 340.3,148.2 341.1,148.4 342.7,148.0 344.4,147.7 345.0,148.2 343.5,150.3 341.7,150.6 339.9,150.0Z" fill="#2166ac" stroke="#2166ac" stroke-width="0.2" stroke-linejoin="round"/>
<path d="M322.7,145.8 324.3,145.5 326.2,145.0 328.0,144.5 328.3,142.6 327.2,142.2 327.0,141.3 326.1,140.2 325.7,138.9 325.3,138.4 325.4,136.4 324.3,136.1 324.6,134.9 323.1,134.9 322.5,136.4 322.7,138.4 323.1,139.7 324.3,139.8 324.6,140.9 324.6,141.7 323.5,141.8 323.7,142.8 322.9,143.7 324.3,144.2 323.5,144.6ZM320.7,140.3 321.5,139.3 322.5,139.8 322.3,140.8 321.3,140.7Z" fill="#c2a5cf" stroke="#c2a5cf" stroke-width="0.2" stroke-linejoin="round"/>
<path d="M364.3,153.9 363.9,152.2 364.3,151.1 365.4,149.9 367.0,149.4 368.6,149.6 368.6,151.3 367.0,151.6 366.5,152.4 367.2,153.6 368.4,154.4 368.2,155.5 369.2,156.2 368.6,157.8 369.3,159.9 367.8,160.5 366.5,160.0 365.4,159.5 365.4,157.8 365.8,156.6 365.0,155.2ZM372.7,151.1 373.7,149.9 375.0,150.2 374.8,151.9 373.5,153.0 372.7,152.2ZM350.9,133.0 352.5,132.5 352.9,131.5 351.3,130.7 350.5,131.5ZM254.8,149.6 257.2,148.3 259.5,148.4 260.6,149.8 258.8,149.9 256.4,149.7ZM258.1,154.9 259.3,154.9 260.2,151.6 260.3,150.6 258.8,151.0 258.1,152.7ZM261.5,153.3 262.8,153.6 264.2,152.1 263.5,150.5 261.1,150.5 261.7,151.9ZM261.7,155.4 265.0,154.2 264.9,153.9 262.7,154.3ZM264.5,153.5 267.2,153.3 267.2,152.6 265.0,153.0ZM249.7,144.5 250.9,144.5 250.5,142.0 249.7,142.3ZM236.3,131.1 238.6,131.1 239.8,129.5 238.2,129.7 236.5,130.7ZM230.8,124.9 233.1,125.1 233.6,123.6 231.7,123.4ZM240.3,134.5 241.5,134.1 242.7,133.8 242.0,133.7 241.0,134.0ZM385.3,150.9 385.8,149.8 388.3,149.9 388.3,150.3 386.1,150.9ZM409.0,143.5 410.0,143.2 412.5,140.0 412.9,139.1 412.2,139.5 410.4,142.0ZM351.9,195.0 352.7,194.3 353.7,194.4 353.9,195.5 353.3,196.8 352.1,196.9Z" fill="#fff" stroke="#fff" stroke-width="0" stroke-linejoin="round"/></g>
<text x="187.2" y="193.6" font-size="7.1" fill="#111" font-weight="bold" textLength="68.3" lengthAdjust="spacingAndGlyphs">No OAC treatment (%)</text>
<rect x="187.1" y="203.8" width="6.8" height="6.8" fill="#762a83" stroke="#5d5d6a" stroke-width="0.35"/>
<text x="199.4" y="209.1" font-size="6.1" fill="#444" textLength="8.6" lengthAdjust="spacingAndGlyphs">≥40</text>
<rect x="187.1" y="213.8" width="6.8" height="6.8" fill="#c2a5cf" stroke="#5d5d6a" stroke-width="0.35"/>
<text x="199.4" y="219.1" font-size="6.1" fill="#444" textLength="18" lengthAdjust="spacingAndGlyphs">[30-40]</text>
<rect x="187.1" y="223.8" width="6.8" height="6.8" fill="#92c5de" stroke="#5d5d6a" stroke-width="0.35"/>
<text x="199.4" y="229.1" font-size="6.1" fill="#444" textLength="18" lengthAdjust="spacingAndGlyphs">[20-30]</text>
<rect x="187.1" y="233.8" width="6.8" height="6.8" fill="#2166ac" stroke="#5d5d6a" stroke-width="0.35"/>
<text x="199.4" y="239.1" font-size="6.1" fill="#444" textLength="9" lengthAdjust="spacingAndGlyphs">&lt;20</text>
<defs><linearGradient id="bg" x1="0" y1="0" x2="0" y2="1"><stop offset="0" stop-color="#8f2a8a"/><stop offset="0.12" stop-color="#973a93"/><stop offset="0.4" stop-color="#ba7fba"/><stop offset="0.7" stop-color="#dfbfe0"/><stop offset="1" stop-color="#f1d6f1"/></linearGradient><filter id="sh" x="-5%" y="-20%" width="110%" height="150%"><feGaussianBlur stdDeviation="1.1"/></filter></defs>
<rect x="523.8" y="153.7" width="173.2" height="28.6" rx="4.5" fill="#7d4c9c" opacity="0.65" filter="url(#sh)"/>
<rect x="523.4" y="152.5" width="173.3" height="28.3" rx="4.3" fill="url(#bg)" stroke="#5c2c75" stroke-width="1.05"/>
<text y="173" font-size="16.8" fill="#632b88" stroke="#632b88" stroke-width="0.3"><tspan x="552.6" textLength="89.0" lengthAdjust="spacingAndGlyphs">Paroxysmal</tspan> <tspan x="649.4" textLength="18.6" lengthAdjust="spacingAndGlyphs">AF</tspan></text>
<rect x="523.8" y="192.0" width="173.2" height="28.6" rx="4.5" fill="#7d4c9c" opacity="0.65" filter="url(#sh)"/>
<rect x="523.4" y="190.8" width="173.3" height="28.3" rx="4.3" fill="url(#bg)" stroke="#5c2c75" stroke-width="1.05"/>
<text y="210.2" font-size="15.3" fill="#632b88" stroke="#632b88" stroke-width="0.3"><tspan x="542.4" textLength="48.6" lengthAdjust="spacingAndGlyphs">History</tspan> <tspan x="598" textLength="13" lengthAdjust="spacingAndGlyphs">of</tspan> <tspan x="617.4" textLength="60.6" lengthAdjust="spacingAndGlyphs">Bleeding</tspan></text>
<rect x="523.8" y="230.5" width="173.2" height="28.6" rx="4.5" fill="#7d4c9c" opacity="0.65" filter="url(#sh)"/>
<rect x="523.4" y="229.3" width="173.3" height="28.3" rx="4.3" fill="url(#bg)" stroke="#5c2c75" stroke-width="1.05"/>
<text y="248.6" font-size="15" fill="#632b88" stroke="#632b88" stroke-width="0.3"><tspan x="537.6" textLength="53.4" lengthAdjust="spacingAndGlyphs">Primary</tspan> <tspan x="598" textLength="31" lengthAdjust="spacingAndGlyphs">Care</tspan> <tspan x="635.4" textLength="46.6" lengthAdjust="spacingAndGlyphs">setting</tspan></text>
<rect x="523.8" y="269.20000000000005" width="173.2" height="28.6" rx="4.5" fill="#7d4c9c" opacity="0.65" filter="url(#sh)"/>
<rect x="523.4" y="268.0" width="173.3" height="28.3" rx="4.3" fill="url(#bg)" stroke="#5c2c75" stroke-width="1.05"/>
<text y="288" font-size="16.8" fill="#632b88" stroke="#632b88" stroke-width="0.3"><tspan x="570.4" textLength="41.6" lengthAdjust="spacingAndGlyphs">Older</tspan> <tspan x="619.4" textLength="30.0" lengthAdjust="spacingAndGlyphs">Age</tspan></text>
<rect x="523.8" y="308.0" width="173.2" height="28.6" rx="4.5" fill="#7d4c9c" opacity="0.65" filter="url(#sh)"/>
<rect x="523.4" y="306.79999999999995" width="173.3" height="28.3" rx="4.3" fill="url(#bg)" stroke="#5c2c75" stroke-width="1.05"/>
<text y="326.7" font-size="15.2" fill="#632b88" stroke="#632b88" stroke-width="0.3"><tspan x="575.5" textLength="68.8" lengthAdjust="spacingAndGlyphs">Dementia</tspan></text>
<rect x="523.8" y="346.90000000000003" width="173.2" height="28.6" rx="4.5" fill="#7d4c9c" opacity="0.65" filter="url(#sh)"/>
<rect x="523.4" y="345.7" width="173.3" height="28.3" rx="4.3" fill="url(#bg)" stroke="#5c2c75" stroke-width="1.05"/>
<text y="365.5" font-size="15.2" fill="#632b88" stroke="#632b88" stroke-width="0.3"><tspan x="579.2" textLength="61.6" lengthAdjust="spacingAndGlyphs">Cirrhosis</tspan></text>
<rect x="523.8" y="385.90000000000003" width="173.2" height="28.6" rx="4.5" fill="#7d4c9c" opacity="0.65" filter="url(#sh)"/>
<rect x="523.4" y="384.7" width="173.3" height="28.3" rx="4.3" fill="url(#bg)" stroke="#5c2c75" stroke-width="1.05"/>
<text y="404.4" font-size="15.1" fill="#632b88" stroke="#632b88" stroke-width="0.3"><tspan x="550.6" textLength="57.4" lengthAdjust="spacingAndGlyphs">Vascular</tspan> <tspan x="616.4" textLength="52.6" lengthAdjust="spacingAndGlyphs">Disease</tspan></text>
<text x="723" y="166.5" font-size="12.6" fill="#1f2d5a" font-weight="bold" textLength="29.5" lengthAdjust="spacingAndGlyphs">+74%</text>
<text x="702.5" y="177.5" font-size="8.3" fill="#1f2d5a" font-weight="bold" textLength="71.0" lengthAdjust="spacingAndGlyphs">(vs Perm./Pers. AF)</text>
<text x="720" y="210.5" font-size="12.6" fill="#1f2d5a" font-weight="bold" textLength="37" lengthAdjust="spacingAndGlyphs">+195%</text>
<text x="725.2" y="242.3" font-size="12.6" fill="#1f2d5a" font-weight="bold" textLength="30.2" lengthAdjust="spacingAndGlyphs">+70%</text>
<text x="713" y="253.2" font-size="8.3" fill="#1f2d5a" font-weight="bold" textLength="56" lengthAdjust="spacingAndGlyphs">(vs Cardiology)</text>
<text x="726.6" y="279.5" font-size="12.6" fill="#1f2d5a" font-weight="bold" textLength="30.0" lengthAdjust="spacingAndGlyphs">+21%</text>
<text x="712.4" y="288.7" font-size="8.3" fill="#1f2d5a" font-weight="bold" textLength="59.6" lengthAdjust="spacingAndGlyphs">(for every 5-year</text>
<text x="702.8" y="298.7" font-size="8.3" fill="#1f2d5a" font-weight="bold" textLength="78.2" lengthAdjust="spacingAndGlyphs">increase after age 75)</text>
<text x="724.8" y="328.3" font-size="12.6" fill="#1f2d5a" font-weight="bold" textLength="30.7" lengthAdjust="spacingAndGlyphs">+71%</text>
<text x="721.3" y="365.1" font-size="12.6" fill="#1f2d5a" font-weight="bold" textLength="36.8" lengthAdjust="spacingAndGlyphs">+103%</text>
<text x="725.3" y="403.8" font-size="12.6" fill="#1f2d5a" font-weight="bold" textLength="30.7" lengthAdjust="spacingAndGlyphs">+31%</text>
<path d="M165.4,318.3V449M101,360.1H313.6" stroke="#666" stroke-width="0.65" fill="none"/>
<text x="161.5" y="320.0" font-size="4.8" fill="#444" text-anchor="end">100</text>
<text x="161.5" y="349.4" font-size="4.8" fill="#444" text-anchor="end">80</text>
<text x="161.5" y="378.9" font-size="4.8" fill="#444" text-anchor="end">60</text>
<text x="161.5" y="408.4" font-size="4.8" fill="#444" text-anchor="end">40</text>
<text x="161.5" y="437.9" font-size="4.8" fill="#444" text-anchor="end">20</text>
<text x="101" y="368.6" font-size="4.8" fill="#444" text-anchor="middle">0</text>
<text x="143.4" y="368.6" font-size="4.8" fill="#444" text-anchor="middle">2000</text>
<text x="185.9" y="368.6" font-size="4.8" fill="#444" text-anchor="middle">4000</text>
<text x="228.4" y="368.6" font-size="4.8" fill="#444" text-anchor="middle">6000</text>
<text x="270.9" y="368.6" font-size="4.8" fill="#444" text-anchor="middle">8000</text>
<text x="313.4" y="368.6" font-size="4.8" fill="#444" text-anchor="middle">10000</text>
<path d="M163.8,318.3H165.4M163.8,347.7H165.4M163.8,377.2H165.4M163.8,406.7H165.4M163.8,436.2H165.4M101,360V361.6M143.4,360V361.6M185.9,360V361.6M228.4,360V361.6M270.9,360V361.6M313.4,360V361.6" stroke="#666" stroke-width="0.5" fill="none"/>
<circle cx="112.1" cy="333.3" r="2.15" fill="#a9262b" stroke="#8a1c20" stroke-width="0.4"/>
<circle cx="135.7" cy="339.1" r="2.15" fill="#a9262b" stroke="#8a1c20" stroke-width="0.4"/>
<circle cx="138.8" cy="341.1" r="2.15" fill="#a9262b" stroke="#8a1c20" stroke-width="0.4"/>
<circle cx="122.1" cy="349.8" r="2.15" fill="#a9262b" stroke="#8a1c20" stroke-width="0.4"/>
<circle cx="134.3" cy="352.4" r="2.15" fill="#a9262b" stroke="#8a1c20" stroke-width="0.4"/>
<circle cx="149" cy="350.4" r="2.15" fill="#a9262b" stroke="#8a1c20" stroke-width="0.4"/>
<circle cx="165.4" cy="350.7" r="2.15" fill="#a9262b" stroke="#8a1c20" stroke-width="0.4"/>
<circle cx="169.9" cy="333.8" r="2.15" fill="#a9262b" stroke="#8a1c20" stroke-width="0.4"/>
<circle cx="122.1" cy="361.6" r="2.15" fill="#a9262b" stroke="#8a1c20" stroke-width="0.4"/>
<circle cx="112.8" cy="377.1" r="2.15" fill="#a9262b" stroke="#8a1c20" stroke-width="0.4"/>
<circle cx="128.3" cy="379.1" r="2.15" fill="#a9262b" stroke="#8a1c20" stroke-width="0.4"/>
<circle cx="141.7" cy="376.9" r="2.15" fill="#a9262b" stroke="#8a1c20" stroke-width="0.4"/>
<circle cx="149" cy="375.6" r="2.15" fill="#a9262b" stroke="#8a1c20" stroke-width="0.4"/>
<circle cx="148.6" cy="378" r="2.15" fill="#a9262b" stroke="#8a1c20" stroke-width="0.4"/>
<circle cx="165.4" cy="370.7" r="2.15" fill="#a9262b" stroke="#8a1c20" stroke-width="0.4"/>
<circle cx="127.4" cy="384" r="2.15" fill="#a9262b" stroke="#8a1c20" stroke-width="0.4"/>
<circle cx="122.1" cy="386" r="2.15" fill="#a9262b" stroke="#8a1c20" stroke-width="0.4"/>
<circle cx="113.7" cy="391.6" r="2.15" fill="#a9262b" stroke="#8a1c20" stroke-width="0.4"/>
<circle cx="186.1" cy="346.9" r="2.15" fill="#a9262b" stroke="#8a1c20" stroke-width="0.4"/>
<circle cx="184.8" cy="349.1" r="2.15" fill="#a9262b" stroke="#8a1c20" stroke-width="0.4"/>
<circle cx="196.3" cy="347.6" r="2.15" fill="#a9262b" stroke="#8a1c20" stroke-width="0.4"/>
<circle cx="198.1" cy="340.7" r="2.15" fill="#a9262b" stroke="#8a1c20" stroke-width="0.4"/>
<circle cx="208.2" cy="329.3" r="2.15" fill="#a9262b" stroke="#8a1c20" stroke-width="0.4"/>
<circle cx="202.8" cy="350" r="2.15" fill="#a9262b" stroke="#8a1c20" stroke-width="0.4"/>
<circle cx="204.3" cy="352.4" r="2.15" fill="#a9262b" stroke="#8a1c20" stroke-width="0.4"/>
<circle cx="204.8" cy="355.6" r="2.15" fill="#a9262b" stroke="#8a1c20" stroke-width="0.4"/>
<circle cx="206.1" cy="362.7" r="2.15" fill="#a9262b" stroke="#8a1c20" stroke-width="0.4"/>
<circle cx="197.2" cy="364.9" r="2.15" fill="#a9262b" stroke="#8a1c20" stroke-width="0.4"/>
<circle cx="185.4" cy="366.7" r="2.15" fill="#a9262b" stroke="#8a1c20" stroke-width="0.4"/>
<circle cx="187.7" cy="370.2" r="2.15" fill="#a9262b" stroke="#8a1c20" stroke-width="0.4"/>
<circle cx="225.7" cy="331.3" r="2.15" fill="#a9262b" stroke="#8a1c20" stroke-width="0.4"/>
<circle cx="240" cy="328.4" r="2.15" fill="#a9262b" stroke="#8a1c20" stroke-width="0.4"/>
<circle cx="287.5" cy="358" r="2.15" fill="#a9262b" stroke="#8a1c20" stroke-width="0.4"/>
<text x="165" y="305" font-size="5.6" fill="#111" font-weight="bold" text-anchor="middle">OAC-treated</text>
<text x="165" y="311.2" font-size="5.6" fill="#111" font-weight="bold" text-anchor="middle">patients (%)</text>
<text x="99" y="318.2" font-size="5.15" fill="#7d7d7d" font-style="italic" text-anchor="middle">Low health expenditure,</text>
<text x="99" y="324.1" font-size="5.15" fill="#7d7d7d" font-style="italic" text-anchor="middle">high OAC prescription</text>
<text x="308" y="317.8" font-size="5.15" fill="#7d7d7d" font-style="italic" text-anchor="middle">High health expenditure,</text>
<text x="308" y="323.8" font-size="5.15" fill="#7d7d7d" font-style="italic" text-anchor="middle">high OAC prescription</text>
<text x="352" y="356" font-size="5.4" fill="#111" font-weight="bold" text-anchor="middle">Health expenditure</text>
<text x="352" y="362.3" font-size="5.4" fill="#111" font-weight="bold" text-anchor="middle">per capita, PPP</text>
<text x="352" y="368.6" font-size="5.4" fill="#111" font-weight="bold" text-anchor="middle">(current international $)</text>
<rect x="12.7" y="415" width="29.3" height="29.3" fill="#6a2b8c"/>
<text x="15" y="436" font-size="16.2" fill="#fff" font-weight="bold" textLength="24.8" lengthAdjust="spacingAndGlyphs">PCR</text>
<text x="46" y="428" font-size="14" fill="#6a2b8c" font-style="italic" textLength="53.4" lengthAdjust="spacingAndGlyphs">london</text>
<text x="46.3" y="442" font-size="12.2" fill="#5b2482" font-weight="bold" textLength="63.6" lengthAdjust="spacingAndGlyphs" stroke="#5b2482" stroke-width="0.55">VALVES</text>
<text y="440.6" font-size="12.5" fill="#63298a" font-weight="bold"><tspan x="212.3" textLength="30.8" lengthAdjust="spacingAndGlyphs">Seigal</tspan> <tspan x="247.2" textLength="21.2" lengthAdjust="spacingAndGlyphs">DM,</tspan> <tspan x="273.9" textLength="9.0" lengthAdjust="spacingAndGlyphs">et</tspan> <tspan x="286.7" textLength="8.1" lengthAdjust="spacingAndGlyphs">al</tspan> <tspan x="300.3" textLength="27.8" lengthAdjust="spacingAndGlyphs">Open</tspan> <tspan x="333.4" textLength="31.9" lengthAdjust="spacingAndGlyphs">Heart.</tspan> <tspan x="372.1" textLength="25.1" lengthAdjust="spacingAndGlyphs">2023</tspan> <tspan x="402.3" textLength="18.7" lengthAdjust="spacingAndGlyphs">Dec</tspan> <tspan x="426.3" textLength="95.0" lengthAdjust="spacingAndGlyphs">14;10(2):e002506</tspan></text>
<clipPath id="uc"><rect x="670" y="428.7" width="115" height="12"/></clipPath>
<g clip-path="url(#uc)"><text x="674.9" y="434.8" font-size="10.2" fill="#8a6e99" textLength="103.8" lengthAdjust="spacingAndGlyphs">pcrlondonvalves.com</text></g>
</svg></body></html>
